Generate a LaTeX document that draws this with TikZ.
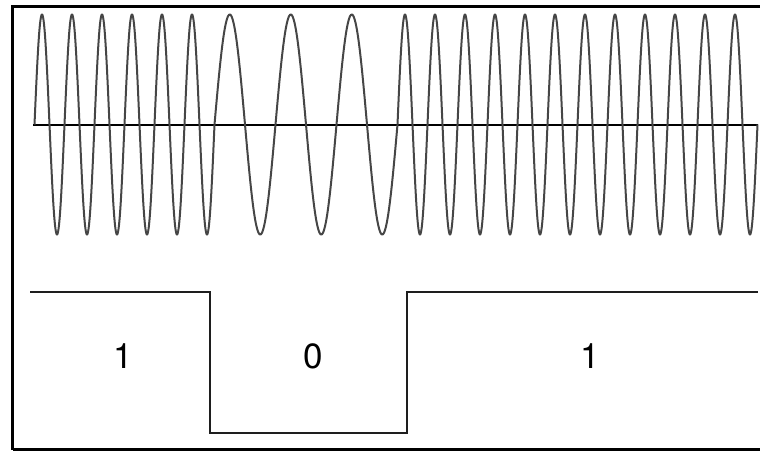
\documentclass[tikz,border=0pt]{standalone}
\usepackage{fontspec}
\newfontfamily\bitfont{TeX Gyre Heros}
\usetikzlibrary{positioning}
\definecolor{wavegray}{RGB}{70,70,70}
\definecolor{bitblack}{RGB}{30,30,30}

\begin{document}
\begin{tikzpicture}[
    x=1pt, y=-1pt,
    frame/.style={draw=black, line width=3pt},
    axisline/.style={draw=black, line width=1.4pt},
    wave/.style={draw=wavegray, line width=2pt, line join=round},
    bits/.style={draw=bitblack, line width=2pt, line join=miter},
    bitlabel/.style={font=\bitfont\fontsize{35}{40}\selectfont, text=black, inner sep=0pt},
]
\useasboundingbox (0,0) rectangle (760,451);
\clip (0,0) rectangle (760,451);

% ====== FRAME ======
\draw[frame] (790,6) -- (12.5,6) -- (12.5,449.5);
\draw[frame, line width=2.2pt] (12.5,449.5) -- (790,449.5);

% ====== FSK SIGNAL ======
\coordinate (axis-start) at (33,125);
\coordinate (axis-end)   at (757.5,125);
\draw[axisline] (axis-start) -- (axis-end);

% bit 1: fast carrier
\draw[wave] plot[domain=34.5:214.5, samples=361, smooth]
    (\x, {124.5 - 110*sin(12*(\x-34.5))});
% bit 0: slow carrier
\draw[wave] plot[domain=214.5:397.5, samples=241, smooth]
    (\x, {124.5 - 110*sin(360/61*(\x-214.5))});
% bit 1: fast carrier
\draw[wave] plot[domain=397.5:757.5, samples=721, smooth]
    (\x, {124.5 - 110*sin(12*(\x-397.5))});

% ====== DATA BITS ======
\coordinate (d-start) at (30,292);
\coordinate (d-fall)  at (210,292);
\coordinate (d-low1)  at (210,433);
\coordinate (d-low2)  at (407,433);
\coordinate (d-rise)  at (407,292);
\coordinate (d-end)   at (758,292);
\draw[bits] (d-start) -- (d-fall) -- (d-low1) -- (d-low2) -- (d-rise) -- (d-end);

\node[bitlabel] (b-one-a) at (123,356) {1};
\node[bitlabel] (b-zero)  at (313,356) {0};
\node[bitlabel] (b-one-b) at (590,356) {1};

\end{tikzpicture}
\end{document}
